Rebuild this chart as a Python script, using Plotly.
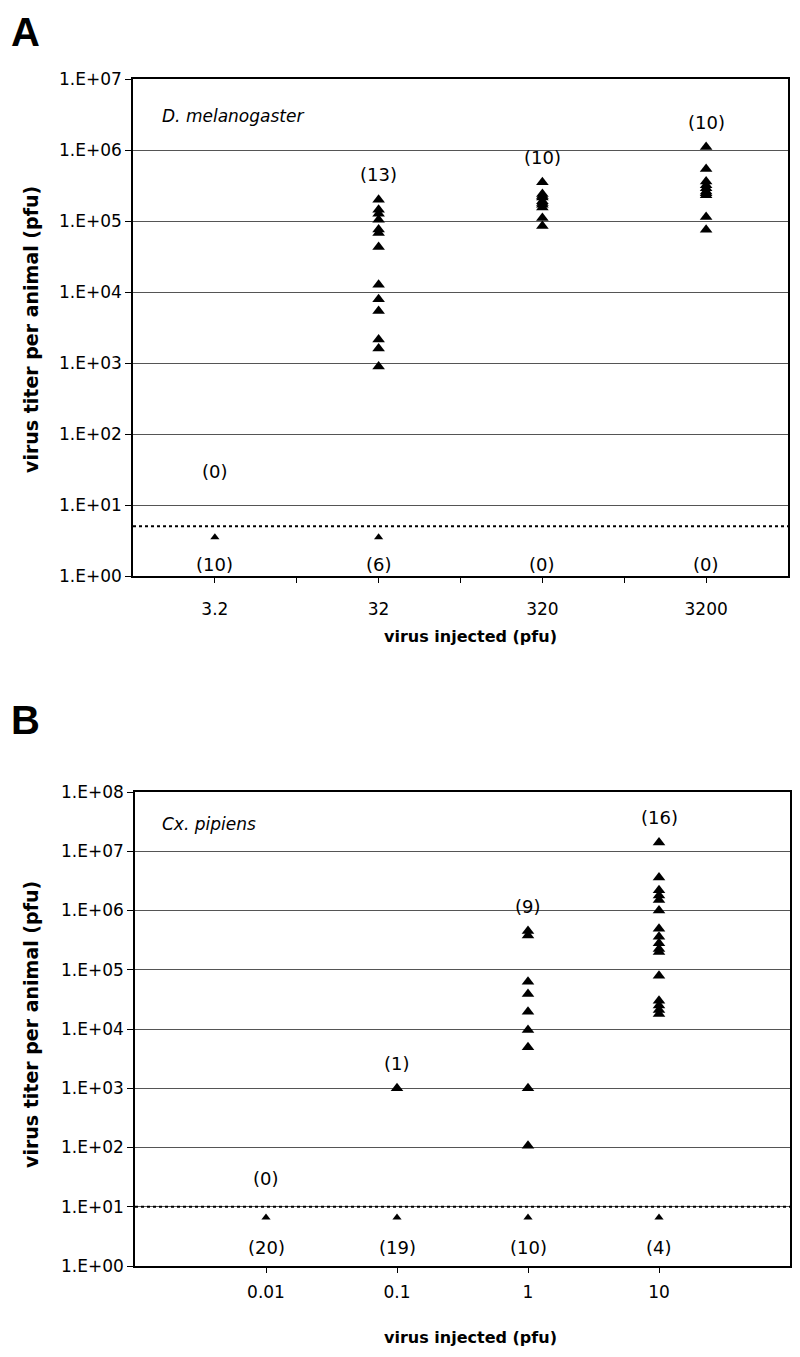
import math
import plotly.graph_objects as go

# ---------------- data ----------------
A_DOSE_LABELS = ["3.2", "32", "320", "3200"]
A_DOSES = [3.2, 32, 320, 3200]
A_TITER_32 = [2.0e5, 1.44e5, 1.27e5, 1.04e5, 7.6e4, 6.8e4, 4.3e4, 1.26e4, 7.9e3, 5.4e3, 2.15e3, 1.6e3, 8.9e2]
A_TITER_320 = [3.5e5, 2.4e5, 2.25e5, 2.15e5, 1.9e5, 1.8e5, 1.7e5, 1.55e5, 1.1e5, 8.5e4]
A_TITER_3200 = [1.1e6, 5.4e5, 3.6e5, 3.2e5, 2.9e5, 2.6e5, 2.45e5, 2.3e5, 1.14e5, 7.5e4]
A_POSITIVE_N = [0, 13, 10, 10]
A_NEGATIVE_N = [10, 6, 0, 0]
A_DETECTION_LIMIT = 5
A_BELOW_LIMIT_VALUE = 3.5
A_Y_TICKS = [1e0, 1e1, 1e2, 1e3, 1e4, 1e5, 1e6, 1e7]
A_Y_TICKTEXT = ["1.E+00", "1.E+01", "1.E+02", "1.E+03", "1.E+04", "1.E+05", "1.E+06", "1.E+07"]

B_DOSE_LABELS = ["0.01", "0.1", "1", "10"]
B_DOSES = [0.01, 0.1, 1, 10]
B_TITER_01 = [1.0e3]
B_TITER_1 = [4.5e5, 3.8e5, 6.3e4, 3.9e4, 1.95e4, 9.6e3, 4.9e3, 1.0e3, 1.07e2]
B_TITER_10 = [1.4e7, 3.6e6, 2.2e6, 1.8e6, 1.5e6, 1.0e6, 4.9e5, 3.6e5, 2.8e5, 2.25e5, 2.0e5,
              7.9e4, 3.0e4, 2.5e4, 2.1e4, 1.8e4]
B_POSITIVE_N = [0, 1, 9, 16]
B_NEGATIVE_N = [20, 19, 10, 4]
B_DETECTION_LIMIT = 10
B_BELOW_LIMIT_VALUE = 6.6
B_Y_TICKS = [1e0, 1e1, 1e2, 1e3, 1e4, 1e5, 1e6, 1e7, 1e8]
B_Y_TICKTEXT = ["1.E+00", "1.E+01", "1.E+02", "1.E+03", "1.E+04", "1.E+05", "1.E+06", "1.E+07", "1.E+08"]

# ---------------- layout helpers ----------------
W, H = 800, 1357
OFF = 8  # page body margin in the browser
def px(x):
    return (x - OFF) / W
def py(y):
    return 1 - (y - OFF) / H

FONT = "DejaVu Sans, Verdana, sans-serif"
TICK_FONT = dict(family=FONT, size=17, color="black")
COUNT_FONT = dict(family=FONT, size=18, color="black")
MARK = dict(symbol="triangle-up", size=11, color="black")
MARK_SMALL = dict(symbol="triangle-up", size=8, color="black")

fig = go.Figure()

# ---------------- panel A ----------------
a_cols = [[], A_TITER_32, A_TITER_320, A_TITER_3200]
xs, ys = [], []
for d, col in zip(A_DOSES, a_cols):
    xs += [d] * len(col)
    ys += col
fig.add_trace(go.Scatter(x=xs, y=ys, mode="markers", marker=MARK, xaxis="x", yaxis="y", showlegend=False))
neg_x = [d for d, n in zip(A_DOSES, A_NEGATIVE_N) if n > 0]
fig.add_trace(go.Scatter(x=neg_x, y=[A_BELOW_LIMIT_VALUE] * len(neg_x), mode="markers",
                         marker=MARK_SMALL, xaxis="x", yaxis="y", showlegend=False))

# ---------------- panel B ----------------
b_cols = [[], B_TITER_01, B_TITER_1, B_TITER_10]
xs, ys = [], []
for d, col in zip(B_DOSES, b_cols):
    xs += [d] * len(col)
    ys += col
fig.add_trace(go.Scatter(x=xs, y=ys, mode="markers", marker=MARK, xaxis="x2", yaxis="y2", showlegend=False))
neg_x = [d for d, n in zip(B_DOSES, B_NEGATIVE_N) if n > 0]
fig.add_trace(go.Scatter(x=neg_x, y=[B_BELOW_LIMIT_VALUE] * len(neg_x), mode="markers",
                         marker=MARK_SMALL, xaxis="x2", yaxis="y2", showlegend=False))

annotations = []
def count_labels(doses, cols, pos_n, neg_n, limit, xref, yref, empty_shift, neg_shift):
    for d, col, p, n in zip(doses, cols, pos_n, neg_n):
        if col:
            annotations.append(dict(x=math.log10(d), y=math.log10(max(col)), xref=xref, yref=yref,
                                    text=f"({p})", showarrow=False, yshift=25,
                                    xanchor="center", yanchor="middle", font=COUNT_FONT))
        else:
            annotations.append(dict(x=math.log10(d), y=math.log10(limit), xref=xref, yref=yref,
                                    text=f"({p})", showarrow=False, yshift=empty_shift,
                                    xanchor="center", yanchor="middle", font=COUNT_FONT))
        annotations.append(dict(x=math.log10(d), y=0, xref=xref, yref=yref,
                                text=f"({n})", showarrow=False, yshift=neg_shift,
                                xanchor="center", yanchor="middle", font=COUNT_FONT))

count_labels(A_DOSES, a_cols, A_POSITIVE_N, A_NEGATIVE_N, A_DETECTION_LIMIT, "x", "y", 55, 12)
count_labels(B_DOSES, b_cols, B_POSITIVE_N, B_NEGATIVE_N, B_DETECTION_LIMIT, "x2", "y2", 28, 19)

# detection limit lines
shapes = [
    dict(type="line", xref="x domain", yref="y", x0=0, x1=1, y0=A_DETECTION_LIMIT, y1=A_DETECTION_LIMIT,
         line=dict(color="black", width=2, dash="dot")),
    dict(type="line", xref="x2 domain", yref="y2", x0=0, x1=1, y0=B_DETECTION_LIMIT, y1=B_DETECTION_LIMIT,
         line=dict(color="black", width=2, dash="dot")),
]

def ann(x, y, text, size, family=FONT, angle=0, xanchor="center"):
    return dict(x=px(x), y=py(y), xref="paper", yref="paper", text=text, showarrow=False,
                textangle=angle, xanchor=xanchor, yanchor="middle",
                font=dict(family=family, size=size, color="black"))

annotations += [
    ann(9, 32, "<b>A</b>", 40, family="Liberation Sans, Arial", xanchor="left"),
    ann(9, 720, "<b>B</b>", 40, family="Liberation Sans, Arial", xanchor="left"),
    ann(160, 116, "<i>D. melanogaster</i>", 17, xanchor="left"),
    ann(160, 824, "<i>Cx. pipiens</i>", 17, xanchor="left"),
    ann(31, 330, "<b>virus titer per animal (pfu)</b>", 19, angle=-90),
    ann(31, 1025, "<b>virus titer per animal (pfu)</b>", 19, angle=-90),
    ann(470, 636, "<b>virus injected (pfu)</b>", 16),
    ann(470, 1337, "<b>virus injected (pfu)</b>", 16),
]

yaxis_common = dict(type="log", showline=True, linecolor="black", linewidth=1.5, mirror=True,
                    ticks="outside", ticklen=6, tickcolor="black", tickfont=TICK_FONT,
                    showgrid=True, gridcolor="#555555", gridwidth=1, zeroline=False, automargin=False)
xaxis_common = dict(type="log", showline=True, linecolor="black", linewidth=1.5, mirror=True,
                    ticks="outside", ticklen=5, tickcolor="black", tickfont=TICK_FONT,
                    showgrid=False, zeroline=False, automargin=False)

a_lo = math.log10(A_DOSES[0]) - 0.5
a_hi = math.log10(A_DOSES[-1]) + 0.5
a_bounds = [10 ** (math.log10(d) + 0.5) for d in A_DOSES[:-1]]

fig.update_layout(
    width=W, height=H,
    margin=dict(l=0, r=0, t=0, b=0, autoexpand=False),
    paper_bgcolor="white", plot_bgcolor="white",
    xaxis=dict(xaxis_common, domain=[px(133), px(788)], anchor="y", range=[a_lo, a_hi],
               tickmode="array", tickvals=A_DOSES, ticktext=A_DOSE_LABELS, ticklabelstandoff=12,
               minor=dict(tickmode="array", tickvals=a_bounds, ticks="outside", ticklen=5,
                          tickcolor="black", showgrid=False)),
    yaxis=dict(yaxis_common, domain=[py(576), py(79)], anchor="x", range=[0, 7],
               tickmode="array", tickvals=A_Y_TICKS, ticktext=A_Y_TICKTEXT),
    xaxis2=dict(xaxis_common, domain=[px(135), px(790)], anchor="y2", range=[-3, 2],
                tickmode="array", tickvals=B_DOSES, ticktext=B_DOSE_LABELS, ticklabelstandoff=5),
    yaxis2=dict(yaxis_common, domain=[py(1266), py(792)], anchor="x2", range=[0, 8],
                tickmode="array", tickvals=B_Y_TICKS, ticktext=B_Y_TICKTEXT),
    annotations=annotations,
    shapes=shapes,
)

fig.write_html("out.html")
